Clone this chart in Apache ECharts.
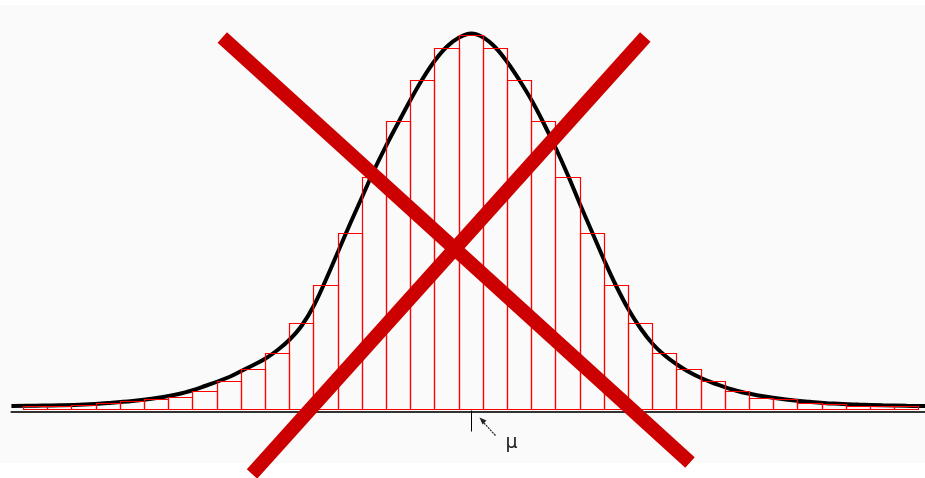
<!DOCTYPE html>
<html>
<head>
<meta charset="utf-8">
<script src="https://cdn.jsdelivr.net/npm/echarts@6/dist/echarts.min.js"></script>
<style>
html,body{margin:0;padding:0;background:#fff;}
#c{width:925px;height:478px;}
</style>
</head>
<body>
<div id="c"></div>
<script>
// Histogram bins: offset from the mean (in bin widths) and bar heights
const binOffsets = [-18,-17,-16,-15,-14,-13,-12,-11,-10,-9,-8,-7,-6,-5,-4,-3,-2,-1,0,
                    1,2,3,4,5,6,7,8,9,10,11,12,13,14,15,16,17,18];
const binHeights = [3.5,3.5,4.2,6.2,8.5,10.2,11.8,17.8,28,40.2,56.2,86,124.2,176.2,232.2,288.5,328.8,360.8,374.5,
                    360.8,328.8,288.5,232.2,176.2,124.2,86,56.2,40.2,28,17.8,11.2,10.2,6.2,5.2,3.5,3.5,3.5];

// Smooth density curve
const curveU = [-19,-18,-17,-16,-15,-14,-13,-12,-11,-10,-9.5,-9,-8.5,-8,-7.5,-7,-6.5,-6,-5.5,-5,-4.5,-4,-3.5,-3,-2.5,-2,-1.5,-1,-0.5,
                0,0.5,1,1.5,2,2.5,3,3.5,4,4.5,5,5.5,6,6.5,7,7.5,8,8.5,9,9.5,10,11,12,13,14,15,16,17,18,18.75];
const curveH = [3.5,3.8,4.2,5,6.5,8.5,11.5,16,23.5,32.5,38.5,44.5,51,59.5,70,84,104,130,158,186,213,240,264.5,287.5,310,331,349,363,372,
                376,372,362,347,329,309,286,261,234,205,177,149,123,100,81,65.5,54,45,37.5,31.5,26.5,18.5,13.5,10,7.7,5.9,4.9,4.2,3.7,3.5];

const meanValue = 0;
const meanLabel = 'μ';

const chart = echarts.init(document.getElementById('c'), null, {renderer: 'canvas'});

const option = {
  animation: false,
  backgroundColor: '#ffffff',
  tooltip: {show: false},
  grid: {left: 11.4, right: 0, top: 9.5, bottom: 68.5, containLabel: false},
  xAxis: {
    type: 'value', min: -19, max: 18.75,
    axisLine: {show: true, onZero: false, lineStyle: {color: '#333', width: 2}},
    offset: 2,
    axisTick: {show: false}, axisLabel: {show: false}, splitLine: {show: false}
  },
  yAxis: {type: 'value', min: 0, max: 400, show: false, splitLine: {show: false}},
  graphic: [
    {type: 'rect', z: -10, silent: true, shape: {x: 0, y: 5, width: 925, height: 458}, style: {fill: '#fafafa'}}
  ],
  series: [
    {
      type: 'line', z: 2, silent: true,
      data: curveU.map((u, i) => [u, curveH[i]]),
      smooth: 0.4, symbol: 'none',
      lineStyle: {color: '#000', width: 4},
      emphasis: {disabled: true}
    },
    {
      type: 'custom', z: 3, silent: true,
      itemStyle: {color: '#ff0000'},
      emphasis: {disabled: true},
      data: binOffsets.map((u, i) => [u, binHeights[i]]),
      renderItem: function (params, api) {
        const u = api.value(0), h = api.value(1);
        const p0 = api.coord([u - 0.5, h]);
        const p1 = api.coord([u + 0.5, 0]);
        const x0 = Math.floor(p0[0]) + 0.5, x1 = Math.floor(p1[0]) + 0.5;
        const y0 = Math.floor(p0[1]) + 0.5, y1 = Math.floor(p1[1]) + 0.5;
        return {
          type: 'polygon',
          shape: {points: [[x0, y1], [x0, y0], [x1, y0], [x1, y1]]},
          style: {fill: null, stroke: '#ff0000', lineWidth: 1.2, opacity: 1}
        };
      }
    }
  ]
};
chart.setOption(option);

// Annotations placed relative to the mean's position on the axis
const m = chart.convertToPixel({gridIndex: 0}, [meanValue, 0]);
const mx = Math.round(m[0]) + 0.5, my = m[1];
chart.setOption({
  graphic: [
    {type: 'rect', z: -10, silent: true, shape: {x: 0, y: 5, width: 925, height: 458}, style: {fill: '#fafafa'}},
    {type: 'line', z: 20, shape: {x1: mx, y1: my + 1, x2: mx, y2: my + 22}, style: {stroke: '#000', lineWidth: 1}},
    {type: 'line', z: 20, shape: {x1: mx + 24, y1: my + 26, x2: mx + 12, y2: my + 13}, style: {stroke: '#222', lineWidth: 1.2, lineDash: [2, 1]}},
    {type: 'polygon', z: 20, shape: {points: [[mx + 8, my + 8], [mx + 15, my + 11], [mx + 11, my + 15]]}, style: {fill: '#222'}},
    {type: 'text', z: 20, style: {text: meanLabel, x: mx + 40, y: my + 24, font: '19px "DejaVu Sans"', fill: '#222', align: 'center', verticalAlign: 'top'}},
    {type: 'line', z: 50, shape: {x1: 222.3, y1: 37.5, x2: 690, y2: 462.5}, style: {stroke: '#cc0000', lineWidth: 14, lineCap: 'butt'}},
    {type: 'line', z: 50, shape: {x1: 645.3, y1: 37, x2: 252, y2: 474}, style: {stroke: '#cc0000', lineWidth: 14, lineCap: 'butt'}}
  ]
});
</script>
</body>
</html>
